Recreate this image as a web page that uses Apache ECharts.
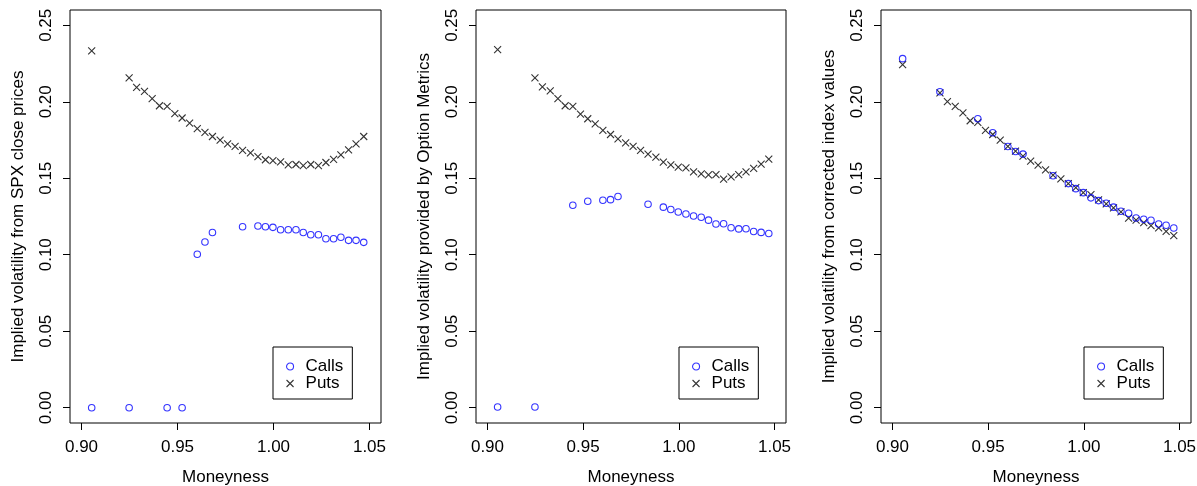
<!DOCTYPE html>
<html><head><meta charset="utf-8">
<script src="https://cdn.jsdelivr.net/npm/echarts@6/dist/echarts.min.js"></script>
<style>html,body{margin:0;padding:0;background:#fff}#c{width:1197px;height:486px}</style>
</head><body><div id="c"></div>
<script>
// ---- data ----
const moneyness = [0.9053, 0.9248, 0.9287, 0.9328, 0.9368, 0.9406, 0.9446, 0.9486, 0.9524, 0.9563,
  0.9603, 0.9643, 0.9682, 0.9722, 0.9761, 0.9800, 0.9839, 0.9880, 0.9919, 0.9958,
  0.9997, 1.0037, 1.0077, 1.0117, 1.0155, 1.0194, 1.0234, 1.0273, 1.0313, 1.0351,
  1.0391, 1.0430, 1.0470];
const callMoneyness = [0.9053, 0.9248, 0.9446, 0.9524, 0.9603, 0.9643, 0.9682, 0.9839, 0.9919, 0.9958,
  0.9997, 1.0037, 1.0077, 1.0117, 1.0155, 1.0194, 1.0234, 1.0273, 1.0313, 1.0351,
  1.0391, 1.0430, 1.0470];

const spxCalls = [0, 0, 0, 0, 0.1003, 0.1083, 0.1145, 0.1183, 0.1188, 0.1183, 0.1179, 0.1163, 0.1163,
  0.1163, 0.1145, 0.1131, 0.1131, 0.1105, 0.1105, 0.1114, 0.1094, 0.1094, 0.1081];
const spxPuts = [0.2333, 0.2156, 0.2094, 0.2068, 0.2020, 0.1974, 0.1970, 0.1922, 0.1894, 0.1861,
  0.1824, 0.1800, 0.1773, 0.1750, 0.1725, 0.1708, 0.1682, 0.1666, 0.1642, 0.1621,
  0.1616, 0.1607, 0.1588, 0.1590, 0.1583, 0.1590, 0.1583, 0.1603, 0.1623, 0.1653,
  0.1686, 0.1725, 0.1773];

const omCalls = [0.0005, 0.0005, 0.1324, 0.1350, 0.1356, 0.1360, 0.1381, 0.1330, 0.1311, 0.1296,
  0.1279, 0.1266, 0.1253, 0.1245, 0.1226, 0.1201, 0.1203, 0.1176, 0.1169, 0.1170,
  0.1152, 0.1146, 0.1139];
const omPuts = [0.2341, 0.2156, 0.2097, 0.2071, 0.2020, 0.1974, 0.1970, 0.1920, 0.1889, 0.1856,
  0.1813, 0.1786, 0.1758, 0.1732, 0.1708, 0.1682, 0.1658, 0.1638, 0.1606, 0.1588,
  0.1573, 0.1568, 0.1542, 0.1529, 0.1522, 0.1524, 0.1494, 0.1509, 0.1524, 0.1542,
  0.1564, 0.1592, 0.1625];

const corrCalls = [0.2282, 0.2066, 0.1889, 0.1798, 0.1708, 0.1675, 0.1658, 0.1516, 0.1465, 0.1432,
  0.1406, 0.1372, 0.1354, 0.1337, 0.1311, 0.1284, 0.1271, 0.1240, 0.1232, 0.1225,
  0.1201, 0.1193, 0.1175];
const corrPuts = [0.2243, 0.2058, 0.2001, 0.1970, 0.1927, 0.1876, 0.1865, 0.1813, 0.1786, 0.1750,
  0.1708, 0.1678, 0.1645, 0.1612, 0.1586, 0.1555, 0.1520, 0.1496, 0.1465, 0.1439,
  0.1406, 0.1393, 0.1358, 0.1332, 0.1306, 0.1280, 0.1239, 0.1227, 0.1210, 0.1190,
  0.1175, 0.1153, 0.1125];

const xTicks = [0.90, 0.95, 1.00, 1.05];
const yTicks = [0.00, 0.05, 0.10, 0.15, 0.20, 0.25];
const xTitle = 'Moneyness';
const yTitles = ['Implied volatility from SPX close prices',
  'Implied volatility provided by Option Metrics',
  'Implied volatility from corrected index values'];
const seriesNames = ['Calls', 'Puts'];

// ---- layout / style ----
const FONT = '"Liberation Sans", Arial, Helvetica, sans-serif';
const CROSS = 'path://M0,0L10,10M0,10L10,0';
const panels = [[spxCalls, spxPuts], [omCalls, omPuts], [corrCalls, corrPuts]];
const gridLefts = [70, 476, 881];
const gridWidths = [311, 310, 310];
const legendLefts = [273, 679, 1084];

const grid = [], xAxis = [], yAxis = [], series = [], legend = [];
panels.forEach((p, i) => {
  grid.push({left: gridLefts[i], width: gridWidths[i], top: 10, bottom: 63,
    show: true, borderColor: '#000', borderWidth: 1, backgroundColor: 'transparent',
    containLabel: false, outerBoundsMode: 'none'});
  xAxis.push({type: 'value', gridIndex: i, min: 0.894, max: 1.056, position: 'bottom',
    name: xTitle, nameLocation: 'middle', nameGap: 46, nameMoveOverlap: false,
    nameTextStyle: {fontSize: 17, color: '#000', fontFamily: FONT},
    axisLine: {show: false, onZero: false}, splitLine: {show: false},
    axisTick: {show: true, inside: false, length: 7, customValues: xTicks, lineStyle: {color: '#000', width: 1}},
    axisLabel: {customValues: xTicks, formatter: v => v.toFixed(2), fontSize: 17, color: '#000',
      fontFamily: FONT, margin: 16, showMinLabel: true, showMaxLabel: true, hideOverlap: false}});
  yAxis.push({type: 'value', gridIndex: i, min: -0.01, max: 0.26, position: 'left',
    name: yTitles[i], nameLocation: 'middle', nameGap: 43, nameRotate: 90, nameMoveOverlap: false,
    nameTextStyle: {fontSize: 17, color: '#000', fontFamily: FONT},
    axisLine: {show: false, onZero: false}, splitLine: {show: false},
    axisTick: {show: true, inside: false, length: 7, customValues: yTicks, lineStyle: {color: '#000', width: 1}},
    axisLabel: {customValues: yTicks, formatter: v => v.toFixed(2), rotate: 90, fontSize: 17,
      color: '#000', fontFamily: FONT, margin: 15, showMinLabel: true, showMaxLabel: true, hideOverlap: false}});
  series.push({type: 'scatter', name: seriesNames[1], xAxisIndex: i, yAxisIndex: i,
    data: moneyness.map((m, k) => [m, p[1][k]]), symbol: CROSS, symbolSize: 7,
    itemStyle: {color: 'transparent', borderColor: '#000', borderWidth: 1.1}, silent: true});
  series.push({type: 'scatter', name: seriesNames[0], xAxisIndex: i, yAxisIndex: i,
    data: callMoneyness.map((m, k) => [m, p[0][k]]), symbol: 'circle', symbolSize: 6.5,
    itemStyle: {color: 'transparent', borderColor: '#0000ff', borderWidth: 1.1}, silent: true});
  legend.push({orient: 'vertical', left: legendLefts[i], top: 347,
    padding: [11, 9, 7, 13], itemWidth: 7, itemHeight: 7, itemGap: 0,
    borderColor: '#000', borderWidth: 1, borderRadius: 0, selectedMode: false,
    textStyle: {fontSize: 17, color: '#000', fontFamily: FONT, lineHeight: 15, padding: [0, 0, 0, 7]},
    data: [
      {name: seriesNames[0], icon: 'circle', itemStyle: {color: 'transparent', borderColor: '#0000ff', borderWidth: 1.1}},
      {name: seriesNames[1], icon: CROSS, itemStyle: {color: 'transparent', borderColor: '#000', borderWidth: 1.1}}
    ]});
});

const chart = echarts.init(document.getElementById('c'), null, {renderer: 'canvas'});
chart.setOption({animation: false, backgroundColor: '#fff', tooltip: {show: false},
  grid, xAxis, yAxis, series, legend});
</script></body></html>
